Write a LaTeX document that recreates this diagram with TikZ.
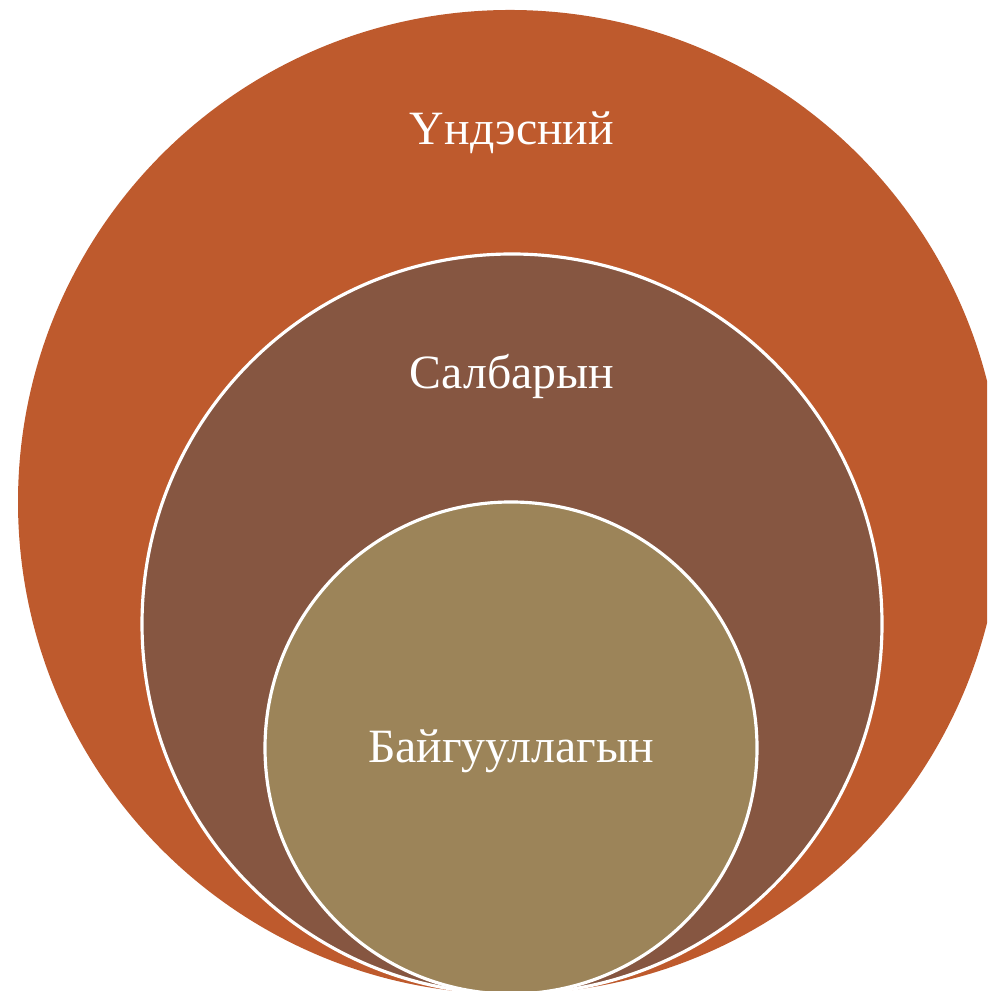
\documentclass[tikz,border=0pt]{standalone}
\usepackage{fontspec}
\setmainfont{Liberation Serif}
\usetikzlibrary{positioning}
\definecolor{cNat}{HTML}{BE5A2D}
\definecolor{cSec}{HTML}{865641}
\definecolor{cOrg}{HTML}{9C8459}

\begin{document}
\begin{tikzpicture}[
  ring/.style={circle, draw=white, line width=0.9pt, inner sep=0pt},
  lbl/.style={text=white, inner sep=0pt, font=\fontsize{13.6}{16}\selectfont}
]
\useasboundingbox (0,0) rectangle (9.87,9.91);
\clip (0,0) rectangle (9.87,9.91);
\node[ring, fill=cNat, draw=none, minimum size=9.84cm] (nat) at (5.10,4.89) {};
\node[ring, fill=cSec, minimum size=7.40cm] (sec) at (5.12,3.67) {};
\node[ring, fill=cOrg, minimum size=4.92cm] (org) at (5.11,2.43) {};

\node[lbl] (natlbl) at (5.12,8.58) {Үндэсний};
\node[lbl] (seclbl) at (5.12,6.15) {Салбарын};
\node[lbl, yshift=-0.03cm] (orglbl) at (org.center) {Байгууллагын};
\end{tikzpicture}
\end{document}
